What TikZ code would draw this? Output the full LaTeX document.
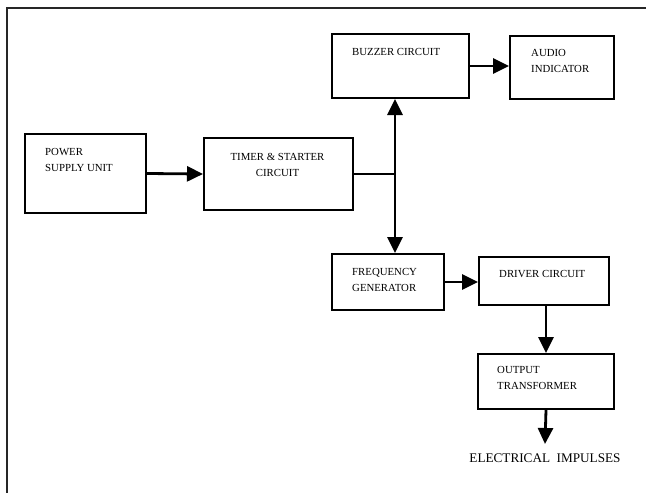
\documentclass[tikz,border=0pt]{standalone}
\usepackage{fontspec}
\setmainfont{Liberation Serif}
\usetikzlibrary{arrows.meta}
\begin{document}
\begin{tikzpicture}[x=1pt,y=-1pt,
  blk/.style={draw, line width=2pt, rectangle, inner sep=0pt, anchor=north west},
  lbl/.style={inner sep=0pt, font=\fontsize{10.8}{16}\selectfont},
  arr/.style={line width=2.8pt, -{Triangle[length=16pt,width=15pt]}},
  darr/.style={line width=2.8pt, {Triangle[length=16pt,width=15pt]}-{Triangle[length=16pt,width=15pt]}},
  thin/.style={line width=1.2pt}]
\useasboundingbox (0,0) rectangle (646,493);
% outer frame (only top and left visible)
\draw[line width=2pt, black!85] (7,493) -- (7,8) -- (646,8);
% blocks
\node[blk, minimum width=121pt, minimum height=79pt] (psu) at (24,133) {};
\node[blk, minimum width=149pt, minimum height=72pt] (timer) at (203,137) {};
\node[blk, minimum width=137pt, minimum height=64pt] (buzzer) at (331,33) {};
\node[blk, minimum width=104pt, minimum height=63pt] (audio) at (509,35) {};
\node[blk, minimum width=112pt, minimum height=56pt] (freq) at (331,253) {};
\node[blk, minimum width=130pt, minimum height=48pt] (driver) at (478,256) {};
\node[blk, minimum width=136pt, minimum height=55pt] (output) at (477,353) {};
% labels
\node[lbl, anchor=north west, align=left] (tpsu) at (45,148) {POWER\\SUPPLY UNIT};
\node[lbl, anchor=north, align=center] (ttimer) at (277.5,153) {TIMER \& STARTER\\CIRCUIT};
\node[lbl, anchor=north west] (tbuzzer) at (352,48) {BUZZER CIRCUIT};
\node[lbl, anchor=north west, align=left] (taudio) at (531,49) {AUDIO\\INDICATOR};
\node[lbl, anchor=north west, align=left] (tfreq) at (352,268) {FREQUENCY\\GENERATOR};
\node[lbl, anchor=north west] (tdriver) at (499,270) {DRIVER CIRCUIT};
\node[lbl, anchor=north west, align=left] (toutput) at (497,366) {OUTPUT\\TRANSFORMER};
\node[inner xsep=0pt, inner ysep=0pt, anchor=north, font=\fontsize{13.2}{16}\selectfont] (elec) at (545,453.5) {ELECTRICAL\ \ IMPULSES};
\coordinate (elecin) at (545,444);
% connectors
\coordinate (j) at (395,174);
\draw[arr] (psu.east) -- (timer.west);
\draw[thin] (timer.east |- j) -- (j);
\draw[darr] (j |- buzzer.south) -- (j |- freq.north);
\draw[arr] (buzzer.east) -- (buzzer.east -| audio.west);
\draw[arr] (freq.east) -- (freq.east -| driver.west);
\draw[arr] (546,0 |- driver.south) -- (546,0 |- output.north);
\draw[arr] (output.south) -- (elecin);
\end{tikzpicture}
\end{document}
